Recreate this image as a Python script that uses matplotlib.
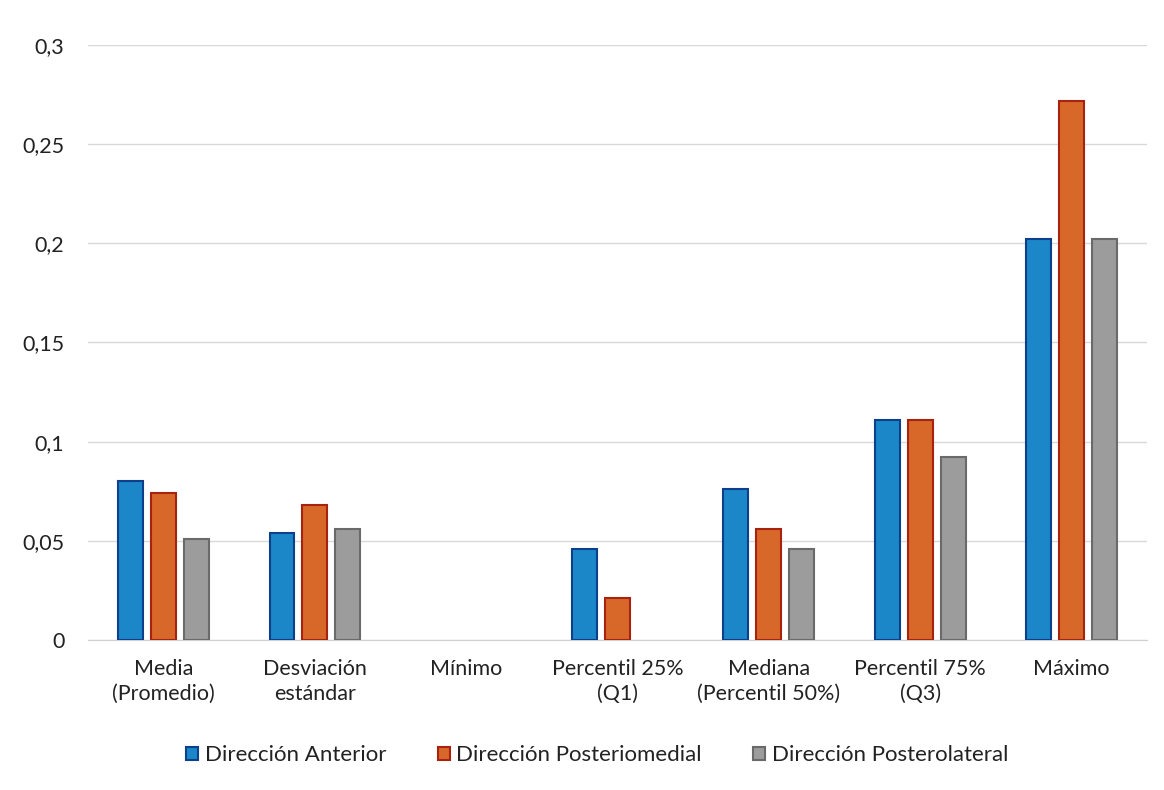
import matplotlib
matplotlib.use("Agg")
import matplotlib.pyplot as plt
import numpy as np

categories = ["Media\n(Promedio)", "Desviación\nestándar", "Mínimo", "Percentil 25%\n(Q1)",
              "Mediana\n(Percentil 50%)", "Percentil 75%\n(Q3)", "Máximo"]
series_names = ["Dirección Anterior", "Dirección Posteriomedial", "Dirección Posterolateral"]
anterior = [0.080, 0.054, 0.0, 0.046, 0.076, 0.111, 0.202]
posteriomedial = [0.074, 0.068, 0.0, 0.021, 0.056, 0.111, 0.272]
posterolateral = [0.051, 0.056, 0.0, 0.0, 0.046, 0.092, 0.202]
yticks = [0, 0.05, 0.1, 0.15, 0.2, 0.25, 0.3]
ytick_labels = ["0", "0,05", "0,1", "0,15", "0,2", "0,25", "0,3"]

plt.rcParams['font.family'] = ['Lato', 'DejaVu Sans']

fig = plt.figure(figsize=(11.64, 7.9), dpi=100)
ax = fig.add_axes([0.0756, 0.19, 0.91, 0.753])

x = np.arange(len(categories))
w = 0.165
step = 0.218
faces = ["#1b87c9", "#d8672a", "#9c9c9c"]
edges = ["#0d3f8a", "#a8230f", "#6a6a6a"]
for i, vals in enumerate([anterior, posteriomedial, posterolateral]):
    lws = [1.5 if v > 0 else 0 for v in vals]
    ax.bar(x + (i - 1) * step, vals, width=w, color=faces[i], edgecolor=edges[i],
           linewidth=lws, label=series_names[i], zorder=3)

ax.set_xlim(-0.5, len(categories) - 0.5)
ax.set_ylim(0, 0.3)
ax.set_yticks(yticks)
ax.set_yticklabels(ytick_labels, fontsize=15.5, color="#222222")
ax.set_xticks(x)
ax.set_xticklabels(categories, fontsize=15.5, color="#222222", linespacing=1.3)
ax.tick_params(axis='y', length=0, pad=17)
ax.tick_params(axis='x', length=0, pad=14)
ax.grid(axis='y', color="#d9d9d9", linewidth=1, zorder=0)
for s in ["top", "right", "left"]:
    ax.spines[s].set_visible(False)
ax.spines["bottom"].set_color("#d0d0d0")

leg = fig.legend(loc="center", bbox_to_anchor=(0.513, 0.044), ncol=3, frameon=False,
                 fontsize=16, handlelength=0.55, handleheight=0.55, handletextpad=0.3,
                 columnspacing=2.3)
for t in leg.get_texts():
    t.set_color("#222222")

fig.savefig("out.png", dpi=100, facecolor="white")
